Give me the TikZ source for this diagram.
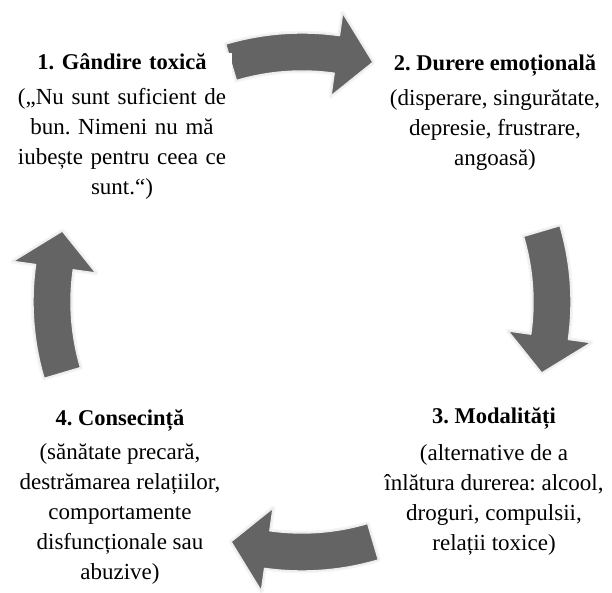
\documentclass[tikz,border=0pt]{standalone}
\usepackage{fontspec}
\setmainfont{Liberation Serif}
\usepackage{tikz}
\usetikzlibrary{positioning}
\definecolor{arrowgrey}{HTML}{646464}
\definecolor{glow}{HTML}{EDEDED}
\newcommand{\stagehead}[1]{{\fontsize{22.5}{30}\selectfont\bfseries #1}}

\begin{document}
\begin{tikzpicture}[x=1pt,y=1pt,
  bigarrow/.style={fill=arrowgrey,draw=glow,line width=1.4pt,line join=round,
    preaction={draw=black!4,line width=4.5pt,line join=round}},
  stage/.style={align=center,inner sep=0pt,
    font=\fontsize{23}{30}\selectfont\frenchspacing}]
\useasboundingbox (0,0) rectangle (612,593);
% the four curved arrows round the cycle
\begin{scope}[shift={(302,291)}]
\foreach \a in {90,0,-90,180}{
  \filldraw[bigarrow] ({\a+16.5}:231) arc[start angle={\a+16.5},end angle={\a-8},radius=231]
    -- ({\a-8}:208) -- ({\a-16.5}:250) -- ({\a-8}:292) -- ({\a-8}:269)
    arc[start angle={\a-8},end angle={\a+16.5},radius=269] -- cycle;
}
\end{scope}
% stages
\node[stage,text width=220pt,fill=white,anchor=north] (t1) at (122,540)
  {\stagehead{1. Gândire toxică}\\[5pt]
   („Nu sunt suficient de\\ bun. Nimeni nu mă\\ iubește pentru ceea ce\\ sunt.“)};
\node[stage,anchor=north] (t2) at (495,539)
  {\stagehead{2. Durere emoțională}\\[5pt]
   (disperare, singurătate,\\ depresie, frustrare,\\ angoasă)};
\node[stage,anchor=north] (t3) at (494,186)
  {\stagehead{3. Modalități}\\[7pt]
   (alternative de a\\ înlătura durerea: alcool,\\ droguri, compulsii,\\ relații toxice)};
\node[stage,anchor=north] (t4) at (120,184)
  {\stagehead{4. Consecință}\\[4pt]
   (sănătate precară,\\ destrămarea relațiilor,\\ comportamente\\ disfuncționale sau\\ abuzive)};
\end{tikzpicture}
\end{document}
